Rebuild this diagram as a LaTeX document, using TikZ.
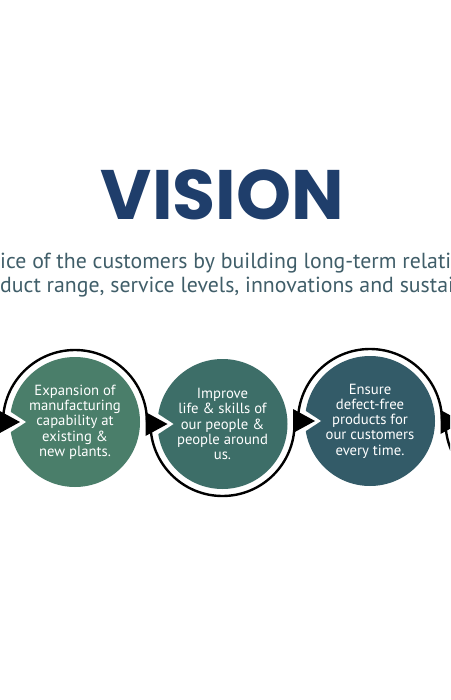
\documentclass[tikz,border=0pt]{standalone}
\usepackage{fontspec}
\setmainfont{PT Sans}
\newfontfamily\titlefont{Poppins}
\usetikzlibrary{calc}
\definecolor{titleblue}{HTML}{1F3E6B}
\definecolor{subgray}{HTML}{405E69}
\definecolor{cone}{HTML}{4A7E6A}
\definecolor{ctwo}{HTML}{3D6E68}
\definecolor{cthree}{HTML}{335B68}
\tikzset{
  bubble/.style={circle, minimum size=130pt, inner sep=0pt, text=white, align=center,
    font=\fontsize{14.7}{15.3}\selectfont},
  ring/.style={draw=black, line width=2.4pt},
  notch/.style={fill=white},
  tip/.style={fill=black},
  subline/.style={anchor=base west, text=subgray, font=\fontsize{21.8}{24}\selectfont, inner sep=0pt},
}
\begin{document}
\begin{tikzpicture}[x=1pt,y=-1pt]
\clip (0,0) rectangle (450,700);
\fill[white] (0,0) rectangle (450,700);

% title and subtitle
\node[anchor=base, text=titleblue, font=\titlefont\bfseries\fontsize{70}{74}\selectfont, inner sep=0pt] (title) at (222.5,220) {VISION};
\node[subline] (subone) at (0,268) {ice of the customers by building long-term relationships};
\node[subline] (subtwo) at (0,292) {duct range, service levels, innovations and sustainability};

% circles
\coordinate (c0) at (-72.5,422);
\node[bubble, fill=cone]   (c1) at (75,422)    {Expansion of\\manufacturing\\capability at\\existing \&\\new plants.};
\node[bubble, fill=ctwo]   (c2) at (222.5,424) {Improve\\life \& skills of\\our people \&\\people around\\us.};
\node[bubble, fill=cthree] (c3) at (370,421)   {Ensure\\defect-free\\products for\\our customers\\every time.};
\coordinate (c4) at (517.5,422);

% notches
\foreach \c in {c1,c2,c3}{
  \fill[notch] ($(\c.center)+(-49,0)$) -- ++(-26,-17) -- ++(0,34) -- cycle;
}

% rings
\draw[ring] ($(c0)+(-72,0)$) arc[start angle=180, end angle=0, radius=72];
\draw[ring] ($(c1.center)+(-72,0)$) arc[start angle=180, end angle=360, radius=72];
\draw[ring] ($(c2.center)+(-72,0)$) arc[start angle=180, end angle=0, radius=72];
\draw[ring] ($(c3.center)+(-72,0)$) arc[start angle=180, end angle=360, radius=72];
\draw[ring] ($(c4)+(-72,0)$) arc[start angle=180, end angle=0, radius=72];

% arrowheads
\foreach \c in {c1.center,c2.center,c3.center,c4}{
  \fill[tip] ($(\c)+(-55,0)$) -- ++(-22,-12) -- ++(0,24) -- cycle;
}
\end{tikzpicture}
\end{document}
